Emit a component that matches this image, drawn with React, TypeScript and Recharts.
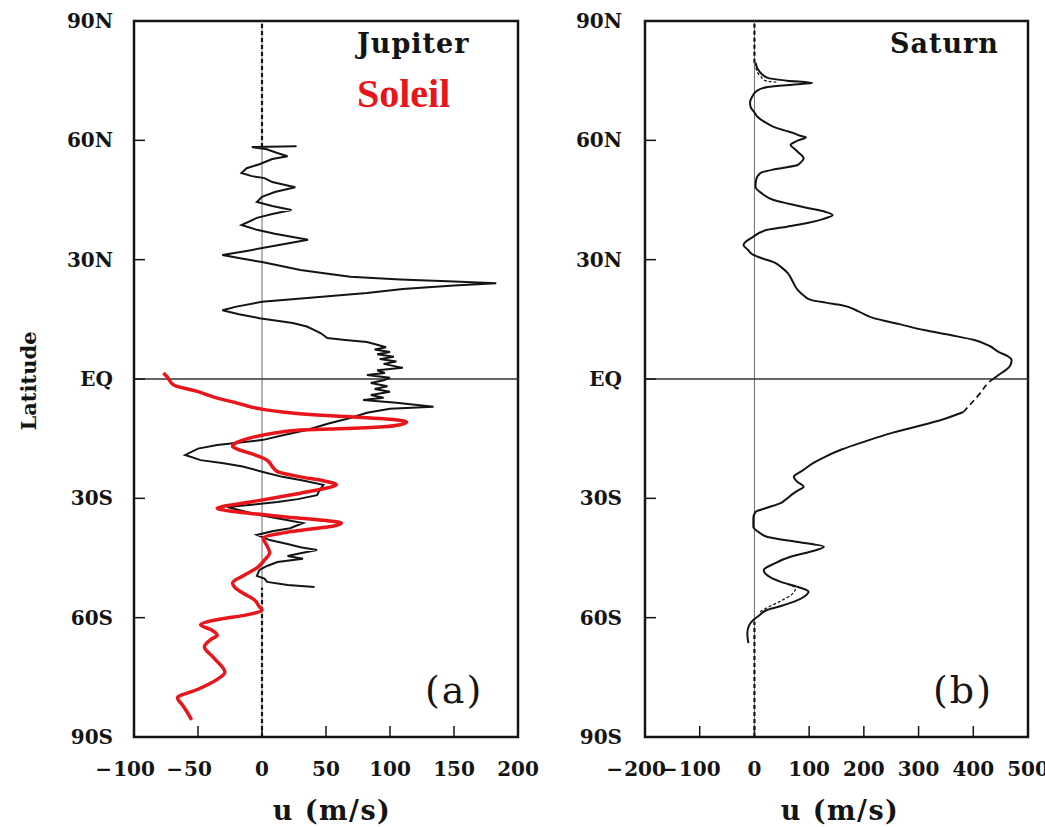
import { Line, LineChart, ReferenceArea, ReferenceLine, XAxis, YAxis } from "recharts";

// Zonal wind profiles, Jupiter (a) and Saturn (b), with the solar rotation profile
// overlaid in red on panel (a).
const FONT = "DejaVu Serif";
const INK = "#141414";
const RED = "#e8161b";

const LAT_TICKS = [-90, -60, -30, 0, 30, 60, 90];
const JUPITER_U_TICKS = [-100, -50, 0, 50, 100, 150, 200];
const SATURN_U_TICKS = [-200, -100, 0, 100, 200, 300, 400, 500];

const JUPITER_LAT = [
  58.5, 58.3, 57.8, 56.8, 56, 55.3, 54, 53, 51.8, 51, 50.5, 49.5, 48.2, 47, 45.8, 44.5, 43.5,
  42.5, 41.5, 40.5, 38.7, 37.5, 36.5, 35, 33.5, 32.2, 31.2, 30.3, 29.4, 28.4, 27.4, 26.5, 25.7,
  25, 24.5, 24.1, 23.5, 22.6, 21.6, 20.5, 19.4, 18.2, 17.3, 16.3, 15.3, 14.1, 13.2, 12.3, 11.5,
  10.3, 9.8, 9.3, 8.6, 8, 7.4, 6.8, 6.2, 5.6, 5, 4.4, 3.8, 2.8, 2.2, 1.5, 1, 0.3, -0.3, -1, -1.8,
  -2.5, -3.2, -4, -4.7, -5.3, -6, -7, -7.5, -8.5, -9.8, -11.2, -12.8, -14, -15.3, -16.6, -17.5,
  -19.1, -20.4, -21.2, -22, -23.3, -24.6, -25.5, -26.6, -28, -29.2, -30.2, -30.9, -31.6, -32.2,
  -33.2, -34.2, -35.2, -36.2, -37.5, -38.3, -39.2, -40.5, -41.5, -42.3, -43, -43.8, -44.5, -45.2,
  -46, -47, -48, -49.5, -50.2, -51, -51.8, -52.3,
];
const JUPITER_U = [
  27, -8, 3, 12, 20, 8, -2, -12, -16, -8, 2, 8, 26, 10, 0, -4, 8,
  23, 8, -4, -16, -4, 10, 36, 10, -12, -31, -16, 0, 15, 30, 50, 69,
  108, 150, 183, 150, 110, 82, 40, 0, -20, -31, -18, -2, 24, 35, 41, 46,
  51, 65, 82, 90, 97, 88, 100, 90, 103, 92, 105, 95, 110, 90, 96, 82, 100, 95, 85, 98,
  88, 100, 85, 95, 79, 105, 134, 100, 82, 69, 52, 35, 18, 1, -35, -50,
  -60, -48, -30, -15, 0, 16, 32, 48, 45, 43, 28, 12, -8, -27,
  -15, -2, 15, 32, 22, 8, -4, 6, 20, 30, 43, 30, 20, 32,
  12, 4, -2, -4, 2, 4, 20, 41,
];

const SUN_LAT = [
  1.5, 0.5, -1.5, -3, -4.8, -6, -7, -7.7, -8.3, -9, -9.5, -10, -10.8, -11.5, -12, -12.5, -12.8,
  -13.6, -14.8, -16, -17, -18, -18.7, -20.4, -22, -23.3, -24.6, -25.6, -26.6, -27.6, -28.7, -30,
  -30.9, -32, -32.5, -33.2, -33.8, -35, -35.6, -36.2, -37, -37.5, -38.5, -40, -42, -43.7, -45.5,
  -47.5, -49.5, -51.3, -52.5, -53.8, -55.5, -57.3, -58, -59.3, -60.5, -61.8, -63, -64.4, -65.5,
  -67.3, -70, -73.7, -75.5, -78, -80.2, -82, -84, -85.7,
];
const SUN_U = [
  -77, -74, -69, -52, -35, -20, -9, 2, 16, 40, 69, 95, 113, 108, 95, 60, 30,
  10, -9, -20, -23, -16, -9, 4, 8, 12, 30, 48, 58, 48, 30, 8,
  -9, -30, -35, -25, -9, 30, 50, 62, 55, 43, 20, 1, 4, 6, 2,
  -4, -15, -23, -21, -15, -6, -2, 0, -12, -35, -48, -40, -35, -40,
  -45, -38, -29, -35, -50, -66, -62, -58, -55,
];

const SATURN_N_LAT = [
  79.5, 77.5, 75.7, 75, 74.4, 74, 73.4, 72.5, 71, 69.5, 68.4, 67, 66, 64.5, 63.4, 62.5, 61.8,
  61.2, 60.8, 60, 59.3, 58.8, 58, 57, 55.5, 54.5, 53.8, 52.8, 51.8, 50, 48.3, 46.5, 45, 44, 43,
  42, 41.2, 40.2, 39.2, 38.3, 37.5, 35.5, 34.5, 33.7, 32.5, 31.2, 30.3, 29.4, 28, 26.6, 24.5,
  22.4, 21, 19.9, 19.2, 18.6, 17, 15.3, 13.8, 12.3, 11, 9.8, 8.3, 6.8, 5.8, 4.8, 3.5, 2.3, 1.2, 0.2,
];
const SATURN_N_U = [
  2, 8, 24, 60, 106, 70, 24, 5, -4, -8, -7, 0, 5, 20, 35, 55, 72,
  82, 94, 80, 70, 66, 72, 80, 90, 85, 79, 40, 11, 3, 2, 15, 35, 65, 97,
  130, 143, 125, 97, 60, 24, -5, -16, -20, -12, -2, 15, 35, 50, 61, 70,
  79, 90, 103, 130, 158, 190, 218, 265, 310, 360, 402, 430, 446, 462, 470, 468, 460, 448, 438,
];
const SATURN_EQ_LAT = [0.2, -0.3, -4, -8.3];
const SATURN_EQ_U = [438, 433, 410, 382];
const SATURN_S_LAT = [
  -8.3, -10.3, -12, -13.6, -15.8, -17.8, -19.5, -21.1, -23, -24.6, -25.8, -27.1, -28, -28.7, -30,
  -31.2, -32.5, -33.4, -35, -37.2, -38.5, -39.7, -41, -42.2, -43.5, -44.7, -46.5, -48, -49.5, -51,
  -52.3, -53.5, -54.6, -55.6, -57, -58, -59.5, -60.6, -62, -63.9, -65.5, -66.4,
];
const SATURN_S_U = [
  382, 341, 295, 250, 200, 158, 130, 108, 88, 72, 78, 90, 80, 72, 60,
  48, 20, 2, -2, -2, 8, 24, 80, 127, 100, 66, 35, 17, 25, 48,
  80, 99, 92, 79, 50, 24, 8, -2, -10, -13, -12, -11,
];
const SATURN_ALT_N_LAT = [79.5, 77.5, 76, 75, 74.6];
const SATURN_ALT_N_U = [2, 4, 12, 20, 40];
const SATURN_ALT_S_LAT = [-51.5, -52.7, -54.2, -55.8, -57.3, -58.5];
const SATURN_ALT_S_U = [60, 75, 68, 48, 26, 10];

const zip = (lat: number[], u: number[]) => lat.map((l, i) => ({ lat: l, u: u[i] }));

const latLabel = (v: number) => (v === 0 ? "EQ" : v > 0 ? `${v}N` : `${-v}S`);

function LatTick(props: any) {
  const { x, y, payload, gap } = props;
  return (
    <g>
      <line x1={x} x2={x + 11} y1={y} y2={y} stroke={INK} strokeWidth={1.5} />
      <text x={x - gap} y={y + 7} textAnchor="end" fontFamily={FONT} fontWeight="bold" fontSize={20} fill={INK}>
        {latLabel(payload.value)}
      </text>
    </g>
  );
}

function UTick(props: any) {
  const { x, y, payload } = props;
  const v = payload.value as number;
  const digits = String(Math.abs(v));
  const w = digits.length * 0.696 * 20;
  return (
    <g>
      <line x1={x} x2={x} y1={y} y2={y - 11} stroke={INK} strokeWidth={1.5} />
      <text x={x} y={y + 39} textAnchor="middle" fontFamily={FONT} fontWeight="bold" fontSize={20} fill={INK}>
        {digits}
      </text>
      {v < 0 && (
        <text x={x - w / 2 - 1} y={y + 39} textAnchor="end" fontFamily={FONT} fontWeight="bold" fontSize={20} fill={INK}>
          −
        </text>
      )}
    </g>
  );
}

function Panel(props: {
  width: number;
  axisWidth: number;
  right: number;
  gap: number;
  domain: [number, number];
  ticks: number[];
  dashTop: number;
  dashBottom: number;
  children: any;
}) {
  const { width, axisWidth, right, gap, domain, ticks, dashTop, dashBottom, children } = props;
  return (
    <LineChart width={width} height={827} layout="vertical" margin={{ top: 21, right, bottom: 30, left: 0 }}>
      <XAxis
        type="number"
        dataKey="u"
        domain={domain}
        ticks={ticks}
        allowDataOverflow
        axisLine={false}
        tickLine={false}
        tickSize={0}
        tickMargin={0}
        height={60}
        interval={0}
        tick={(p: any) => <UTick {...p} />}
      />
      <YAxis
        type="number"
        dataKey="lat"
        domain={[-90, 90]}
        ticks={LAT_TICKS}
        reversed
        allowDataOverflow
        axisLine={false}
        tickLine={false}
        tickSize={0}
        tickMargin={0}
        width={axisWidth}
        interval={0}
        tick={(p: any) => <LatTick {...p} gap={gap} />}
      />
      <ReferenceLine x={0} stroke="#6a6a6a" strokeWidth={1} />
      <ReferenceLine y={0} stroke="#333" strokeWidth={1.4} />
      <ReferenceLine segment={[{ x: 0, y: dashTop }, { x: 0, y: 90 }]} stroke={INK} strokeWidth={2.2} strokeDasharray="4 3" />
      <ReferenceLine segment={[{ x: 0, y: -90 }, { x: 0, y: dashBottom }]} stroke={INK} strokeWidth={2.2} strokeDasharray="4 3" />
      {children}
      <ReferenceArea x1={domain[0]} x2={domain[1]} y1={-90} y2={90} fill="none" stroke={INK} strokeWidth={2.5} />
    </LineChart>
  );
}

export default function App() {
  const common = { dot: false, activeDot: false, isAnimationActive: false, dataKey: "u" };
  return (
    <div style={{ position: "absolute", left: 0, top: 0, width: 1045, height: 827, background: "#fff" }}>
      <div style={{ position: "absolute", left: 0, top: 0 }}>
        <Panel width={560} axisWidth={134} right={42} gap={21} domain={[-100, 200]} ticks={JUPITER_U_TICKS} dashTop={58.3} dashBottom={-52.5}>
          <Line {...common} data={zip(JUPITER_LAT, JUPITER_U)} type="linear" stroke={INK} strokeWidth={2} />
          <Line {...common} data={zip(SUN_LAT, SUN_U)} type="monotone" stroke={RED} strokeWidth={3.5} />
        </Panel>
      </div>
      <div style={{ position: "absolute", left: 560, top: 0 }}>
        <Panel width={485} axisWidth={85} right={17} gap={23} domain={[-200, 500]} ticks={SATURN_U_TICKS} dashTop={79.5} dashBottom={-61}>
          <Line {...common} data={zip(SATURN_N_LAT, SATURN_N_U)} type="monotone" stroke={INK} strokeWidth={2} />
          <Line {...common} data={zip(SATURN_EQ_LAT, SATURN_EQ_U)} type="monotone" stroke={INK} strokeWidth={1.8} strokeDasharray="6 4" />
          <Line {...common} data={zip(SATURN_S_LAT, SATURN_S_U)} type="monotone" stroke={INK} strokeWidth={2} />
          <Line {...common} data={zip(SATURN_ALT_N_LAT, SATURN_ALT_N_U)} type="monotone" stroke={INK} strokeWidth={1.2} strokeDasharray="3 2" />
          <Line {...common} data={zip(SATURN_ALT_S_LAT, SATURN_ALT_S_U)} type="monotone" stroke={INK} strokeWidth={1.2} strokeDasharray="3 2" />
        </Panel>
      </div>
      <svg width={1045} height={827} style={{ position: "absolute", left: 0, top: 0, pointerEvents: "none" }}>
        <g fontFamily={FONT} fill={INK}>
          <text x={357} y={53} fontSize={27} fontWeight="bold" letterSpacing={1}>Jupiter</text>
          <text x={890} y={53} fontSize={27} fontWeight="bold" letterSpacing={1}>Saturn</text>
          <text x={425} y={703} fontSize={38} letterSpacing={2}>(a)</text>
          <text x={933} y={703} fontSize={38} letterSpacing={2}>(b)</text>
          <text x={332} y={820} fontSize={27} fontWeight="bold" letterSpacing={1.5} textAnchor="middle">u (m/s)</text>
          <text x={840} y={820} fontSize={27} fontWeight="bold" letterSpacing={1.5} textAnchor="middle">u (m/s)</text>
          <text x={36} y={381} fontSize={21} fontWeight="bold" textAnchor="middle" transform="rotate(-90 36 381)">Latitude</text>
        </g>
        <text x={357} y={107} fontFamily="Liberation Serif" fontSize={40} fontWeight="bold" fill={RED}>Soleil</text>
      </svg>
    </div>
  );
}
